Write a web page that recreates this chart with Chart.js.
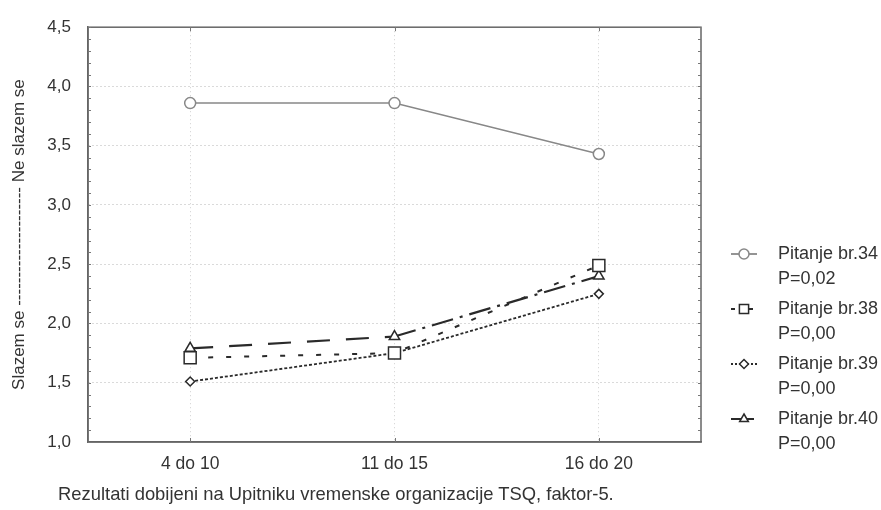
<!DOCTYPE html>
<html>
<head>
<meta charset="utf-8">
<script src="https://cdn.jsdelivr.net/npm/chart.js@4/dist/chart.umd.min.js"></script>
<style>
  html, body { margin: 0; padding: 0; background: #fff; }
  #wrap { position: relative; width: 881px; height: 510px; }
  #caption { position: absolute; left: 58px; top: 483px; font: 18.4px "Liberation Sans", Arial, sans-serif; color: #333; white-space: nowrap; }
</style>
</head>
<body>
<div id="wrap">
  <canvas id="c" width="881" height="510"></canvas>
  <div id="caption">Rezultati dobijeni na Upitniku vremenske organizacije TSQ, faktor-5.</div>
</div>
<script>
const categories = ['4 do 10', '11 do 15', '16 do 20'];
const q34 = [3.86, 3.86, 3.43];
const q38 = [1.71, 1.75, 2.49];
const q39 = [1.51, 1.75, 2.25];
const q40 = [1.79, 1.89, 2.40];
const seriesNames = ['Pitanje br.34', 'Pitanje br.38', 'Pitanje br.39', 'Pitanje br.40'];
const pValues = ['P=0,02', 'P=0,00', 'P=0,00', 'P=0,00'];
const yMin = 1.0, yMax = 4.5, yStep = 0.5, yMinorStep = 0.1;
const yTitle = 'Slazem se --------------------- Ne slazem se';

const FONT = '"Liberation Sans", Arial, sans-serif';

function ds(label, data, color, dash, style, radius, width, legendDash) {
  return {
    label, data,
    borderColor: color, borderWidth: width, borderDash: dash,
    pointStyle: style, pointRadius: radius, pointHoverRadius: radius,
    pointBackgroundColor: '#fff', pointBorderColor: color, pointBorderWidth: 1.5,
    tension: 0, fill: false, legendDash
  };
}

const datasets = [
  ds(seriesNames[0], q34, '#888', [], 'circle', 5.5, 1.5, []),
  ds(seriesNames[1], q38, '#2a2a2a', [5, 13], 'rect', 8.5, 2, [4, 5]),
  ds(seriesNames[2], q39, '#2a2a2a', [3, 2], 'rectRot', 4.5, 1.8, [2, 2]),
  ds(seriesNames[3], q40, '#2a2a2a', [23, 16], 'triangle', 6, 2.2, [10, 3])
];
// dash-dot for the second segment of series 40
datasets[3].segment = { borderDash: (c) => c.p0DataIndex === 1 ? [22, 7, 3, 7] : [23, 16] };

function drawMarker(ctx, style, r, x, y) {
  ctx.beginPath();
  if (style === 'circle') {
    ctx.arc(x, y, r, 0, Math.PI * 2);
  } else if (style === 'rect') {
    const s = Math.SQRT1_2 * r;
    ctx.rect(x - s, y - s, 2 * s, 2 * s);
  } else if (style === 'rectRot') {
    ctx.moveTo(x, y - r); ctx.lineTo(x + r, y); ctx.lineTo(x, y + r); ctx.lineTo(x - r, y); ctx.closePath();
  } else if (style === 'triangle') {
    ctx.moveTo(x, y - r); ctx.lineTo(x + r * 0.87, y + r * 0.5); ctx.lineTo(x - r * 0.87, y + r * 0.5); ctx.closePath();
  }
  ctx.fillStyle = '#fff';
  ctx.fill();
  ctx.stroke();
}

const extras = {
  id: 'extras',
  afterDraw(chart) {
    const ctx = chart.ctx;
    const y = chart.scales.y, x = chart.scales.x;
    const a = chart.chartArea;
    ctx.save();
    ctx.strokeStyle = '#777';
    ctx.lineWidth = 1;
    for (let v = yMin; v <= yMax + 1e-9; v += yMinorStep) {
      const py = Math.round(y.getPixelForValue(v)) + 0.5;
      ctx.beginPath();
      ctx.moveTo(a.left, py); ctx.lineTo(a.left + 3, py);
      ctx.moveTo(a.right - 3, py); ctx.lineTo(a.right, py);
      ctx.stroke();
    }
    categories.forEach((c, i) => {
      const px = Math.round(x.getPixelForValue(i)) + 0.5;
      ctx.beginPath();
      ctx.moveTo(px, a.bottom); ctx.lineTo(px, a.bottom - 4);
      ctx.moveTo(px, a.top); ctx.lineTo(px, a.top + 4);
      ctx.stroke();
    });
    // legend
    const lx0 = 731, lx1 = 757, tx = 778;
    chart.data.datasets.forEach((d, i) => {
      const cy = 254 + i * 55;
      ctx.strokeStyle = d.borderColor;
      ctx.lineWidth = 1.8;
      ctx.setLineDash(d.legendDash);
      ctx.beginPath();
      ctx.moveTo(lx0, cy); ctx.lineTo(lx1, cy);
      ctx.stroke();
      ctx.setLineDash([]);
      ctx.lineWidth = 1.5;
      drawMarker(ctx, d.pointStyle, d.pointStyle === 'rect' ? 6.5 : Math.min(d.pointRadius, 5), (lx0 + lx1) / 2, cy);
      ctx.fillStyle = '#333';
      ctx.font = '18px ' + FONT;
      ctx.textBaseline = 'middle';
      ctx.textAlign = 'left';
      ctx.fillText(seriesNames[i], tx, cy);
      ctx.fillText(pValues[i], tx, cy + 25);
    });
    ctx.restore();
  }
};

new Chart(document.getElementById('c'), {
  type: 'line',
  data: { labels: categories, datasets },
  options: {
    responsive: false,
    animation: false,
    devicePixelRatio: 1,
    layout: { padding: { left: 0, right: 180, top: 23, bottom: 0 } },
    plugins: { legend: { display: false }, tooltip: { enabled: false } },
    scales: {
      x: {
        type: 'category',
        offset: true,
        grid: {
          display: true, drawTicks: false, offset: false,
          color: 'rgba(150,150,150,0.45)', lineWidth: 1
        },
        border: { display: true, color: '#666', width: 1.5, dash: [1, 3] },
        ticks: { padding: 12, color: '#333', font: { family: FONT, size: 17.5 } },
        afterFit(s) { s.height = 68; }
      },
      y: {
        min: yMin, max: yMax,
        grid: {
          drawTicks: false,
          color: (c) => (c.tick && (c.tick.value === yMin || c.tick.value === yMax)) ? 'rgba(0,0,0,0)' : 'rgba(120,120,120,0.55)',
          lineWidth: 1
        },
        border: { display: true, color: '#666', width: 1.5, dash: [1, 3] },
        ticks: {
          stepSize: yStep, padding: 17, color: '#333',
          font: { family: FONT, size: 17 },
          callback: (v) => Number(v).toFixed(1).replace('.', ',')
        },
        title: { display: true, text: yTitle, color: '#333', font: { family: FONT, size: 17 }, padding: { top: 9, bottom: 4 } },
        afterFit(s) { s.width = 88; }
      }
    }
  },
  plugins: [extras, {
    id: 'frame',
    beforeDatasetsDraw(chart) {
      const ctx = chart.ctx, a = chart.chartArea;
      ctx.save();
      ctx.setLineDash([]);
      ctx.strokeStyle = '#666';
      ctx.lineWidth = 1.5;
      ctx.strokeRect(a.left, a.top, a.right - a.left, a.bottom - a.top);
      ctx.restore();
    }
  }]
});
</script>
</body>
</html>
